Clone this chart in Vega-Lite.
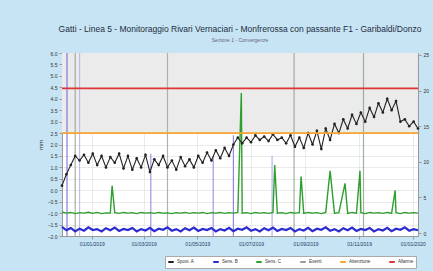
{
  "$schema": "https://vega.github.io/schema/vega-lite/v6.json",
  "width": 356,
  "height": 183,
  "autosize": {"type": "none"},
  "padding": {"left": 62, "top": 53, "right": 15, "bottom": 35},
  "background": "#c6e4f4",
  "title": {
    "text": "Gatti - Linea 5 - Monitoraggio Rivari Vernaciari - Monfrerossa con passante F1 - Garibaldi/Donzo",
    "subtitle": "Sezione 1 - Convergenze",
    "font": "Liberation Sans",
    "fontSize": 8.5,
    "fontWeight": "normal",
    "color": "#1f2d3d",
    "subtitleFont": "Liberation Sans",
    "subtitleFontSize": 5,
    "subtitleColor": "#667",
    "subtitlePadding": 5,
    "anchor": "middle",
    "offset": 8
  },
  "datasets": {
    "black": [
      {"t":0,"v":0.2},{"t":5,"v":0.7},{"t":10,"v":1.1},{"t":15,"v":1.5},{"t":20,"v":1.3},{"t":25,"v":1.55},{"t":30,"v":1.2},{"t":35,"v":1.6},{"t":40,"v":1.1},{"t":45,"v":1.5},
      {"t":50,"v":1.0},{"t":55,"v":1.45},{"t":60,"v":1.2},{"t":65,"v":1.6},{"t":70,"v":0.95},{"t":75,"v":1.5},{"t":80,"v":0.9},{"t":85,"v":1.4},{"t":90,"v":1.0},{"t":95,"v":1.55},
      {"t":100,"v":0.8},{"t":105,"v":1.35},{"t":110,"v":1.1},{"t":115,"v":1.5},{"t":120,"v":1.0},{"t":125,"v":1.3},{"t":130,"v":0.9},{"t":135,"v":1.45},{"t":140,"v":1.05},{"t":145,"v":1.35},
      {"t":150,"v":1.0},{"t":155,"v":1.5},{"t":160,"v":1.2},{"t":165,"v":1.65},{"t":170,"v":1.3},{"t":175,"v":1.75},{"t":180,"v":1.4},{"t":185,"v":1.85},{"t":190,"v":1.5},{"t":195,"v":2.0},
      {"t":200,"v":2.3},{"t":205,"v":2.05},{"t":210,"v":2.3},{"t":215,"v":2.1},{"t":220,"v":2.4},{"t":225,"v":2.2},{"t":230,"v":2.35},{"t":235,"v":2.15},{"t":240,"v":2.45},{"t":245,"v":2.2},
      {"t":250,"v":2.3},{"t":255,"v":2.05},{"t":260,"v":2.4},{"t":265,"v":1.9},{"t":270,"v":2.3},{"t":275,"v":1.85},{"t":280,"v":2.5},{"t":285,"v":2.0},{"t":290,"v":2.6},{"t":295,"v":1.8},
      {"t":300,"v":2.7},{"t":305,"v":2.2},{"t":310,"v":2.9},{"t":315,"v":2.5},{"t":320,"v":3.1},{"t":325,"v":2.7},{"t":330,"v":3.3},{"t":335,"v":2.9},{"t":340,"v":3.4},{"t":345,"v":3.0},
      {"t":350,"v":3.6},{"t":355,"v":3.2},{"t":360,"v":3.8},{"t":365,"v":3.4},{"t":370,"v":4.0},{"t":375,"v":3.5},{"t":380,"v":3.9},{"t":385,"v":3.0},{"t":390,"v":3.1},{"t":395,"v":2.8},
      {"t":400,"v":3.0},{"t":405,"v":2.7}
    ],
    "green": [
      {"t":0,"v":-0.95},{"t":5,"v":-1.0},{"t":10,"v":-0.97},{"t":15,"v":-1.02},{"t":20,"v":-0.98},{"t":25,"v":-1.0},{"t":30,"v":-0.96},{"t":35,"v":-1.01},{"t":40,"v":-0.97},{"t":45,"v":-1.02},
      {"t":50,"v":-0.99},{"t":55,"v":-1.0},{"t":57,"v":0.2},{"t":60,"v":-0.98},{"t":65,"v":-1.01},{"t":70,"v":-0.97},{"t":75,"v":-1.0},{"t":80,"v":-0.98},{"t":85,"v":-1.02},{"t":90,"v":-0.97},
      {"t":95,"v":-1.0},{"t":100,"v":-0.98},{"t":105,"v":-1.01},{"t":110,"v":-0.97},{"t":115,"v":-1.0},{"t":120,"v":-0.99},{"t":125,"v":-1.02},{"t":130,"v":-0.98},{"t":135,"v":-1.0},{"t":140,"v":-0.97},
      {"t":145,"v":-1.01},{"t":150,"v":-0.98},{"t":155,"v":-1.0},{"t":160,"v":-0.97},{"t":165,"v":-1.02},{"t":170,"v":-0.98},{"t":175,"v":-1.0},{"t":180,"v":-0.97},{"t":185,"v":-1.01},{"t":190,"v":-0.98},
      {"t":195,"v":-1.0},{"t":200,"v":-0.97},{"t":204,"v":4.25},{"t":205,"v":-1.0},{"t":210,"v":-0.98},{"t":215,"v":-1.02},{"t":220,"v":-0.97},{"t":225,"v":-1.0},{"t":230,"v":-0.98},{"t":235,"v":-1.01},
      {"t":240,"v":-0.97},{"t":242,"v":1.1},{"t":245,"v":-1.0},{"t":250,"v":-0.98},{"t":255,"v":-1.02},{"t":260,"v":-0.97},{"t":265,"v":-1.0},{"t":270,"v":-0.98},{"t":272,"v":0.6},{"t":275,"v":-1.01},
      {"t":280,"v":-0.97},{"t":285,"v":-1.0},{"t":290,"v":-0.98},{"t":295,"v":-1.02},{"t":300,"v":-0.97},{"t":305,"v":0.85},{"t":310,"v":-1.0},{"t":315,"v":-0.98},{"t":322,"v":0.3},{"t":325,"v":-1.01},
      {"t":330,"v":-0.97},{"t":335,"v":-1.0},{"t":339,"v":0.85},{"t":340,"v":-0.98},{"t":345,"v":-1.02},{"t":350,"v":-0.97},{"t":355,"v":-1.0},{"t":360,"v":-0.98},{"t":365,"v":-1.01},{"t":370,"v":-0.97},
      {"t":375,"v":-1.0},{"t":379,"v":0.0},{"t":380,"v":-0.98},{"t":385,"v":-1.02},{"t":390,"v":-0.97},{"t":395,"v":-1.0},{"t":400,"v":-0.98},{"t":405,"v":-1.0}
    ],
    "blue": [
      {"t":0,"v":-1.6},{"t":5,"v":-1.75},{"t":10,"v":-1.65},{"t":15,"v":-1.8},{"t":20,"v":-1.68},{"t":25,"v":-1.77},{"t":30,"v":-1.62},{"t":35,"v":-1.74},{"t":40,"v":-1.7},{"t":45,"v":-1.8},
      {"t":50,"v":-1.66},{"t":55,"v":-1.75},{"t":60,"v":-1.63},{"t":65,"v":-1.78},{"t":70,"v":-1.69},{"t":75,"v":-1.74},{"t":80,"v":-1.65},{"t":85,"v":-1.8},{"t":90,"v":-1.7},{"t":95,"v":-1.76},
      {"t":100,"v":-1.64},{"t":105,"v":-1.79},{"t":110,"v":-1.68},{"t":115,"v":-1.73},{"t":120,"v":-1.62},{"t":125,"v":-1.77},{"t":130,"v":-1.7},{"t":135,"v":-1.8},{"t":140,"v":-1.66},{"t":145,"v":-1.75},
      {"t":150,"v":-1.63},{"t":155,"v":-1.78},{"t":160,"v":-1.69},{"t":165,"v":-1.74},{"t":170,"v":-1.65},{"t":175,"v":-1.8},{"t":180,"v":-1.7},{"t":185,"v":-1.76},{"t":190,"v":-1.64},{"t":195,"v":-1.79},
      {"t":200,"v":-1.68},{"t":205,"v":-1.73},{"t":210,"v":-1.62},{"t":215,"v":-1.77},{"t":220,"v":-1.7},{"t":225,"v":-1.8},{"t":230,"v":-1.66},{"t":235,"v":-1.75},{"t":240,"v":-1.63},{"t":245,"v":-1.78},
      {"t":250,"v":-1.69},{"t":255,"v":-1.74},{"t":260,"v":-1.65},{"t":265,"v":-1.8},{"t":270,"v":-1.7},{"t":275,"v":-1.76},{"t":280,"v":-1.64},{"t":285,"v":-1.79},{"t":290,"v":-1.68},{"t":295,"v":-1.73},
      {"t":300,"v":-1.62},{"t":305,"v":-1.77},{"t":310,"v":-1.7},{"t":315,"v":-1.8},{"t":320,"v":-1.66},{"t":325,"v":-1.75},{"t":330,"v":-1.63},{"t":335,"v":-1.78},{"t":340,"v":-1.69},{"t":345,"v":-1.74},
      {"t":350,"v":-1.65},{"t":355,"v":-1.8},{"t":360,"v":-1.7},{"t":365,"v":-1.76},{"t":370,"v":-1.64},{"t":375,"v":-1.79},{"t":380,"v":-1.68},{"t":385,"v":-1.73},{"t":390,"v":-1.62},{"t":395,"v":-1.77},
      {"t":400,"v":-1.7},{"t":405,"v":-1.75}
    ],
    "events": [
      {"t":5.7,"v":-2,"v2":6,"c":"#6f62d6"},
      {"t":15,"v":-2,"v2":6,"c":"#93a593"},
      {"t":20,"v":-2,"v2":6,"c":"#b7afea"},
      {"t":101,"v":-2,"v2":1.6,"c":"#8f86e0"},
      {"t":120,"v":-2,"v2":6,"c":"#9aac9a"},
      {"t":172,"v":-2,"v2":1.5,"c":"#8f86e0"},
      {"t":195,"v":-2,"v2":2.4,"c":"#7d72dc"},
      {"t":239,"v":-2,"v2":1.5,"c":"#a9a2ec"},
      {"t":264,"v":-2,"v2":6,"c":"#8fa58f"},
      {"t":343,"v":-2,"v2":6,"c":"#8fa58f"}
    ]
  },
  "layer": [
    {
      "encoding": {
        "y": {"field": "v", "type": "quantitative", "scale": {"domain": [-2, 6], "nice": false, "zero": false},
          "axis": {"title": "mm", "values": [-2,-1.5,-1,-0.5,0,0.5,1,1.5,2,2.5,3,3.5,4,4.5,5,5.5,6], "labelOverlap": false, "labelFontSize": 5, "labelColor": "#333", "titleFontSize": 6, "titleFontWeight": "normal", "titleColor": "#333", "titlePadding": 4, "tickSize": 3, "tickColor": "#999", "domainColor": "#999", "gridColor": "#dcdcdc", "gridWidth": 0.6, "labelFont": "Liberation Sans", "titleFont": "Liberation Sans"}}
      },
      "layer": [
        {
          "data": {"values": [{"v": 6, "v2": 2.5}]},
          "mark": {"type": "rect", "fill": "#ebebeb"},
          "encoding": {
            "y2": {"field": "v2"}
          }
        },
        {
          "data": {"name": "events"},
          "mark": {"type": "rule", "strokeWidth": 1.2, "opacity": 0.85},
          "encoding": {
            "x": {"field": "t", "type": "quantitative", "scale": {"domain": [0, 405], "nice": false, "zero": false},
              "axis": {"title": null, "values": [34, 93, 154, 215, 277, 338, 399], "labelOverlap": false, "labelExpr": "timeFormat(time(datetime(2018, 10, 28)) + datum.value * 86400000, '%d/%m/%Y')", "labelFontSize": 5, "labelColor": "#1d3f66", "labelFont": "Liberation Sans", "tickSize": 3, "tickColor": "#999", "domainColor": "#999", "gridColor": "#dcdcdc", "gridWidth": 0.6}},
            "y2": {"field": "v2"},
            "stroke": {"field": "c", "type": "nominal", "scale": null, "legend": null}
          }
        },
        {
          "data": {"name": "blue"},
          "mark": {"type": "line", "strokeWidth": 2.2},
          "encoding": {
            "x": {"field": "t", "type": "quantitative"},
            "color": {"datum": "Sens. B",
              "scale": {"domain": ["Spost. A", "Sens. B", "Sens. C", "Eventi", "Attenzione", "Allarme"], "range": ["#222222", "#2b2bd0", "#2e9e2e", "#9a9a9a", "#f5a431", "#e23434"]},
              "legend": {"title": null, "orient": "none", "legendX": 103, "legendY": 203, "direction": "horizontal", "fillColor": "#ffffff", "strokeColor": "#aaaaaa", "padding": 2, "labelFontSize": 4.5, "labelFont": "Liberation Sans", "labelColor": "#333", "symbolType": "stroke", "symbolSize": 30, "symbolStrokeWidth": 2, "columnPadding": 14, "labelOffset": 2}}
          }
        },
        {
          "data": {"name": "green"},
          "mark": {"type": "line", "strokeWidth": 1.4},
          "encoding": {
            "x": {"field": "t", "type": "quantitative"},
            "color": {"datum": "Sens. C"}
          }
        },
        {
          "data": {"name": "black"},
          "mark": {"type": "line", "strokeWidth": 1.1, "point": {"size": 7, "filled": true}},
          "encoding": {
            "x": {"field": "t", "type": "quantitative"},
            "color": {"datum": "Spost. A"}
          }
        },
        {
          "data": {"values": [{"v": 2.5}]},
          "mark": {"type": "rule", "strokeWidth": 1.8},
          "encoding": {
            "color": {"datum": "Attenzione"}
          }
        },
        {
          "data": {"values": [{"v": 4.45}]},
          "mark": {"type": "rule", "strokeWidth": 1.8},
          "encoding": {
            "color": {"datum": "Allarme"}
          }
        }
      ]
    },
    {
      "data": {"values": [{"r": 0}]},
      "mark": {"type": "rule", "opacity": 0},
      "encoding": {
        "y": {"field": "r", "type": "quantitative", "scale": {"domain": [-0.42, 25.28], "nice": false, "zero": false},
          "axis": {"orient": "right", "title": null, "values": [0, 5, 10, 15, 20, 25], "labelFontSize": 5, "labelColor": "#333", "labelFont": "Liberation Sans", "grid": false, "tickSize": 3, "tickColor": "#999", "domainColor": "#999"}}
      }
    }
  ],
  "resolve": {"scale": {"y": "independent"}},
  "config": {
    "view": {"fill": "#ffffff", "stroke": "#9aa3aa"}
  }
}
